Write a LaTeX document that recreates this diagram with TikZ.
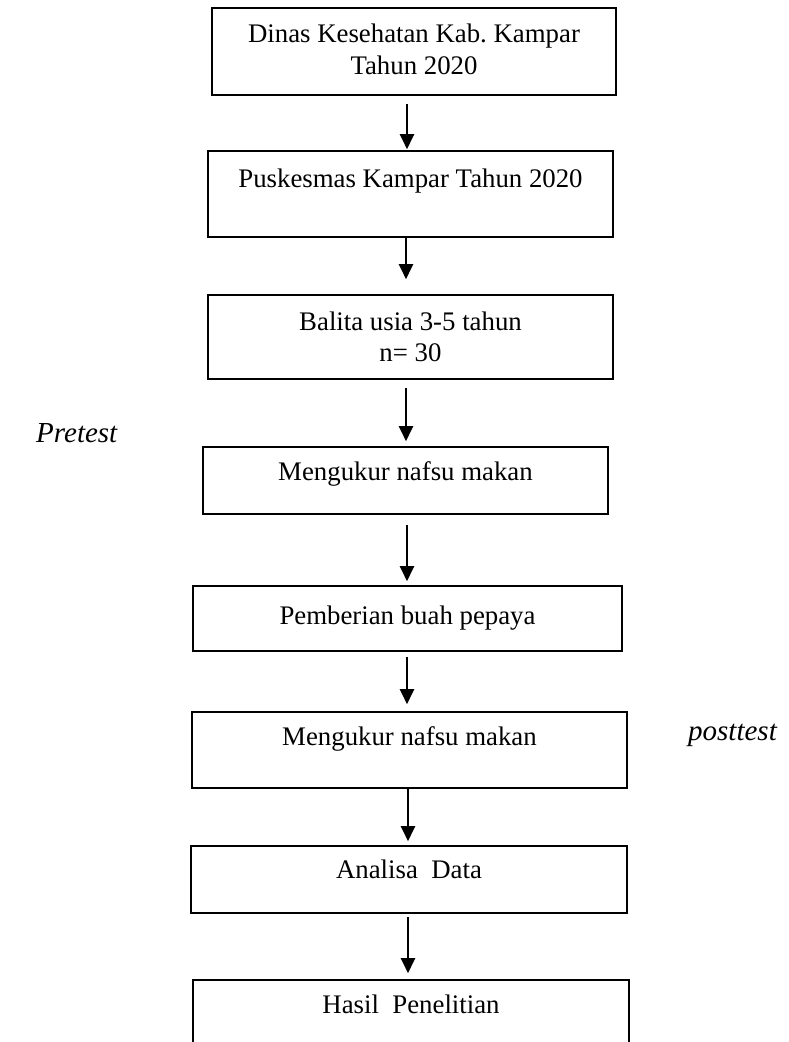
\documentclass[tikz,border=0pt]{standalone}
\usepackage{fontspec}
\setmainfont{Liberation Serif}
\usetikzlibrary{arrows.meta}
\frenchspacing
\begin{document}
\begin{tikzpicture}[x=1pt,y=-1pt,
  box/.style={draw, line width=1.6pt, inner sep=0pt},
  txt/.style={font=\fontsize{26.8}{32}\selectfont, anchor=base, inner sep=0pt},
  lbl/.style={font=\fontsize{29}{35}\selectfont\itshape, anchor=base west, inner sep=0pt},
  arr/.style={line width=2.2pt, -{Triangle[width=14pt,length=15pt]}}
]
\useasboundingbox (0,0) rectangle (789,1042);
\clip (0,0) rectangle (789,1042);
\fill[white] (0,0) rectangle (789,1042);

% boxes
\node[box, minimum width=404pt, minimum height=87pt] (b1) at (414,51.5) {};
\node[box, minimum width=405pt, minimum height=86pt] (b2) at (410.5,194) {};
\node[box, minimum width=405pt, minimum height=84pt] (b3) at (410.5,337) {};
\node[box, minimum width=405pt, minimum height=67pt] (b4) at (405.5,480.5) {};
\node[box, minimum width=429pt, minimum height=65pt] (b5) at (407.5,618.5) {};
\node[box, minimum width=435pt, minimum height=76pt] (b6) at (409.5,750) {};
\node[box, minimum width=436pt, minimum height=67pt] (b7) at (409,879.5) {};
\node[box, minimum width=436pt, minimum height=90pt] (b8) at (411,1025) {};

% texts
\node[txt] (t1a) at (414,42) {Dinas Kesehatan Kab. Kampar};
\node[txt] (t1b) at (414,74) {Tahun 2020};
\node[txt] (t2) at (410.5,187) {Puskesmas Kampar Tahun 2020};
\node[txt] (t3a) at (410.5,330) {Balita usia 3-5 tahun};
\node[txt] (t3b) at (410.5,361) {n= 30};
\node[txt] (t4) at (405.5,480) {Mengukur nafsu makan};
\node[txt] (t5) at (407.5,624) {Pemberian buah pepaya};
\node[txt] (t6) at (409.5,745) {Mengukur nafsu makan};
\node[txt] (t7) at (409,878) {Analisa~~Data};
\node[txt] (t8) at (411,1013) {Hasil~~Penelitian};

% side labels
\node[lbl] (pre) at (36,442) {Pretest};
\node[lbl] (post) at (688,740) {posttest};

% arrow columns
\coordinate (c1) at (407,0);
\coordinate (c2) at (406,0);
\coordinate (c3) at (406,0);
\coordinate (c4) at (407,0);
\coordinate (c5) at (407,0);
\coordinate (c6) at (408,0);
\coordinate (c7) at (408,0);

\draw[arr, shorten <=8pt, shorten >=1pt] (b1.south -| c1) -- (b2.north -| c1);
\draw[arr, shorten <=0pt, shorten >=15pt] (b2.south -| c2) -- (b3.north -| c2);
\draw[arr, shorten <=8pt, shorten >=5pt] (b3.south -| c3) -- (b4.north -| c3);
\draw[arr, shorten <=10pt, shorten >=4pt] (b4.south -| c4) -- (b5.north -| c4);
\draw[arr, shorten <=5pt, shorten >=7pt] (b5.south -| c5) -- (b6.north -| c5);
\draw[arr, shorten <=0pt, shorten >=4pt] (b6.south -| c6) -- (b7.north -| c6);
\draw[arr, shorten <=3pt, shorten >=6pt] (b7.south -| c7) -- (b8.north -| c7);
\end{tikzpicture}
\end{document}
